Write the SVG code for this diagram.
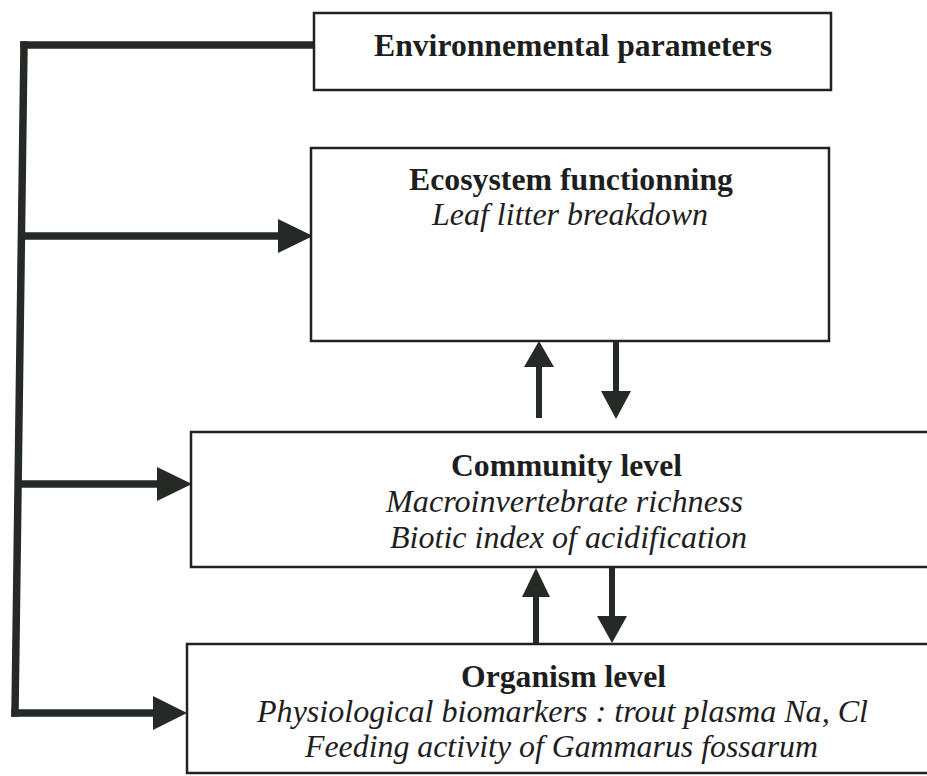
<svg xmlns="http://www.w3.org/2000/svg" width="927" height="776" viewBox="0 0 927 776">
<style>
.box{fill:#fff;stroke:#222;stroke-width:2.5}
.b{font-family:"Liberation Serif","Times New Roman",serif;font-weight:bold;font-size:32px;fill:#1e1e1e;text-anchor:start}
.i{font-family:"Liberation Serif","Times New Roman",serif;font-style:italic;font-size:32px;fill:#1e1e1e;text-anchor:start}
.ln{stroke:#262a26;stroke-width:7.5;fill:none;stroke-linecap:square}
.sh{stroke:#262a26;stroke-width:6;fill:none}
.hd{fill:#262a26}
</style>
<rect width="927" height="776" fill="#fff"/>
<g id="connectors">
<path class="ln" d="M24,45 L313,45"/>
<path class="ln" d="M24,45 L15,713"/>
<path class="ln" d="M22,236 L280,236"/>
<polygon class="hd" points="278,219 313,236 278,253"/>
<path class="ln" d="M19,484 L159,484"/>
<polygon class="hd" points="157,467 192,484 157,501"/>
<path class="ln" d="M15,713 L155,713"/>
<polygon class="hd" points="153,696 187,713 153,730"/>
<path class="sh" d="M539,418 L539,366"/>
<polygon class="hd" points="524,367 539,341 554,367"/>
<path class="sh" d="M616,341 L616,392"/>
<polygon class="hd" points="601,391 616,419 631,391"/>
<path class="sh" d="M536,643 L536,596"/>
<polygon class="hd" points="522,597 536,568 550,597"/>
<path class="sh" d="M612,567 L612,617"/>
<polygon class="hd" points="597,616 612,643 627,616"/>
</g>
<g id="env">
<rect class="box" x="314" y="13" width="517" height="77"/>
<text class="b" x="374" y="56" textLength="398" lengthAdjust="spacingAndGlyphs">Environnemental parameters</text>
</g>
<g id="eco">
<rect class="box" x="311" y="148" width="518" height="193"/>
<text class="b" x="409" y="190" textLength="324" lengthAdjust="spacingAndGlyphs">Ecosystem functionning</text>
<text class="i" x="432" y="225" textLength="276" lengthAdjust="spacingAndGlyphs">Leaf litter breakdown</text>
</g>
<g id="community">
<rect class="box" x="191" y="432" width="740" height="135"/>
<text class="b" x="451" y="476" textLength="231" lengthAdjust="spacingAndGlyphs">Community level</text>
<text class="i" x="386" y="512" textLength="357" lengthAdjust="spacingAndGlyphs">Macroinvertebrate richness</text>
<text class="i" x="390" y="548" textLength="357" lengthAdjust="spacingAndGlyphs">Biotic index of acidification</text>
</g>
<g id="organism">
<rect class="box" x="187" y="644" width="744" height="129"/>
<text class="b" x="461" y="687" textLength="205" lengthAdjust="spacingAndGlyphs">Organism level</text>
<text class="i" x="257" y="722" textLength="611" lengthAdjust="spacingAndGlyphs">Physiological biomarkers : trout plasma Na, Cl</text>
<text class="i" x="305" y="757" textLength="513" lengthAdjust="spacingAndGlyphs">Feeding activity of Gammarus fossarum</text>
</g>
</svg>
